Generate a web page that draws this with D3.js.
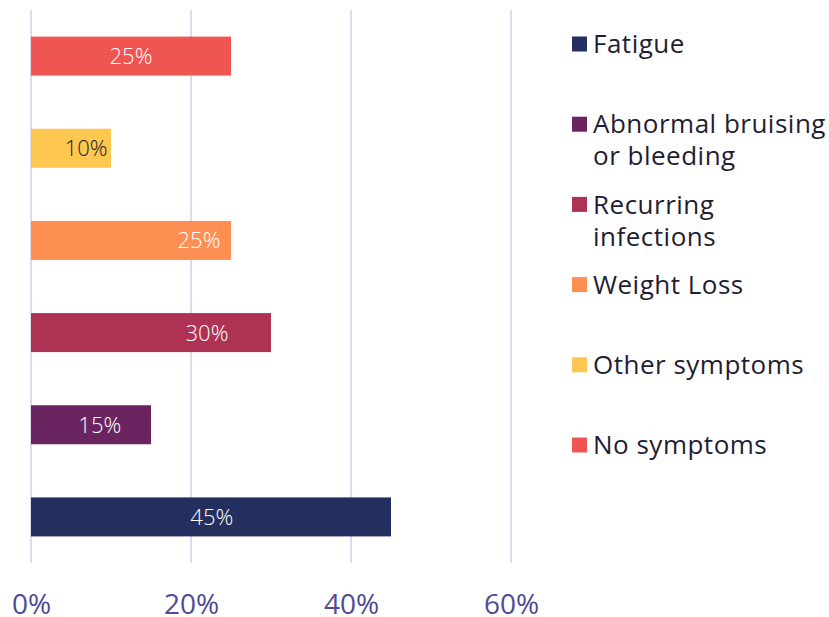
<!DOCTYPE html>
<html><head><meta charset="utf-8">
<script src="https://cdn.jsdelivr.net/npm/d3@7"></script>
<style>
html,body{margin:0;padding:0;background:#fff;}
svg{display:block;}
text{font-family:"Open Sans","Noto Sans",sans-serif;}
</style></head>
<body>
<svg id="chart" width="829" height="617"></svg>
<script>
// Data
const categories = ["No symptoms", "Other symptoms", "Weight Loss", "Recurring infections", "Abnormal bruising or bleeding", "Fatigue"];
const values = [25, 10, 25, 30, 15, 45];
const valueLabels = ["25%", "10%", "25%", "30%", "15%", "45%"];
const legendOrder = ["Fatigue", "Abnormal bruising or bleeding", "Recurring infections", "Weight Loss", "Other symptoms", "No symptoms"];
const legendLines = [["Fatigue"], ["Abnormal bruising", "or bleeding"], ["Recurring", "infections"], ["Weight Loss"], ["Other symptoms"], ["No symptoms"]];
const xTicks = [0, 20, 40, 60];
const xTickLabels = ["0%", "20%", "40%", "60%"];

// Styles / layout
const colors = {
  "Fatigue": "#232f5f",
  "Abnormal bruising or bleeding": "#6a2460",
  "Recurring infections": "#ad3254",
  "Weight Loss": "#fd8f52",
  "Other symptoms": "#fec74f",
  "No symptoms": "#ef5551"
};
const labelColors = ["#ffffff", "#222222", "#ffffff", "#ffffff", "#ffffff", "#ffffff"];
// label centre position in value units (as placed in the reference)
const labelCenters = [12.5, 6.9, 21, 22, 8.6, 22.6];

const svg = d3.select("#chart");
const x = d3.scaleLinear().domain([0, 60]).range([31, 511]);
const y = d3.scaleBand().domain(categories).range([10, 563]).paddingInner(0.577).paddingOuter(0.2885);

// gridlines
svg.append("g").selectAll("line").data(xTicks).join("line")
  .attr("x1", d => x(d)).attr("x2", d => x(d))
  .attr("y1", 10).attr("y2", 563)
  .attr("stroke", "#dcdaec").attr("stroke-width", 2);

// bars
svg.append("g").selectAll("rect").data(categories).join("rect")
  .attr("x", x(0))
  .attr("y", d => y(d))
  .attr("width", (d, i) => x(values[i]) - x(0))
  .attr("height", y.bandwidth())
  .attr("fill", d => colors[d]);

// value labels
svg.append("g").selectAll("text").data(categories).join("text")
  .attr("x", (d, i) => x(labelCenters[i]))
  .attr("y", d => y(d) + y.bandwidth() / 2)
  .attr("dy", "0.36em")
  .attr("text-anchor", "middle")
  .attr("font-size", 22)
  .attr("font-weight", 300)
  .attr("fill", (d, i) => labelColors[i])
  .text((d, i) => valueLabels[i]);

// x axis
const xAxis = d3.axisBottom(x).tickValues(xTicks).tickFormat((d, i) => xTickLabels[i]).tickSize(0).tickPadding(0);
const ax = svg.append("g").attr("transform", "translate(0,614)").call(xAxis);
ax.select(".domain").remove();
ax.selectAll("text").attr("font-size", 28).attr("fill", "#4f4a94").attr("dy", "0")
  .style("font-family", '"Open Sans","Noto Sans",sans-serif');

// legend
const lg = svg.append("g");
const legendY = d3.scalePoint().domain(legendOrder).range([44, 445]);
legendOrder.forEach((name, i) => {
  const cy = legendY(name);
  lg.append("rect").attr("x", 572).attr("y", cy - 7.5).attr("width", 15).attr("height", 15).attr("fill", colors[name]);
  const t = lg.append("text").attr("x", 593).attr("y", cy)
    .attr("font-size", 26).attr("letter-spacing", 0.5).attr("fill", "#1f1d33");
  legendLines[i].forEach((ln, j) => {
    t.append("tspan").attr("x", 593).attr("dy", j === 0 ? "0.35em" : 32).text(ln);
  });
});
</script>
</body></html>
